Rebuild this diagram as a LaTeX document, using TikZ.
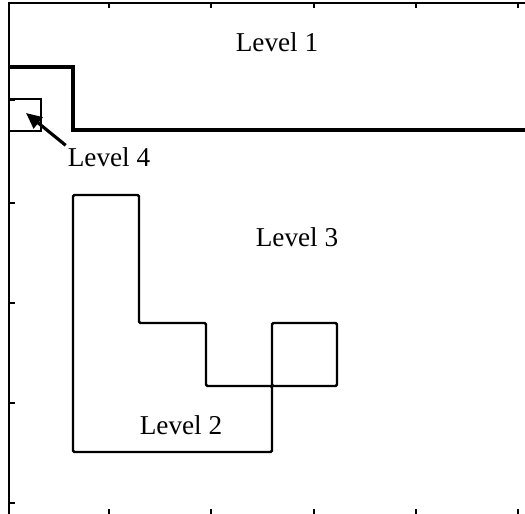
\documentclass[tikz,border=0pt]{standalone}
\usepackage{fontspec}
\setmainfont{Liberation Serif}
\usetikzlibrary{arrows.meta}

\begin{document}
\begin{tikzpicture}[
      x=0.02cm, y=-0.02cm,
      every node/.style={font=\fontsize{15.5}{18}\selectfont, inner sep=1pt},
      axis/.style={line width=0.7pt},
      tick/.style={line width=0.9pt},
      levelone/.style={line width=2.2pt},
      leveltwo/.style={line width=1.4pt, rounded corners=0.8pt},
      levelfour/.style={line width=0.8pt},
      pointer/.style={line width=1.8pt, -{Triangle[length=9pt,width=8pt]}}
    ]

    % keep the margins of the page
    \useasboundingbox (0,0) rectangle (525,514);

    % frame: only the left and top sides, with their ticks
    \draw[axis] (9,514) -- (9,3) -- (525,3);
    \foreach \tx in {109,211,314,416,518} {
      \draw[tick] (\tx,3) -- (\tx,8);
      \draw[tick] (\tx,514) -- (\tx,509);
    }
    \foreach \ty in {100,203,303,403,503}
      \draw[tick] (9,\ty) -- (15,\ty);

    % Level 1 boundary (thick step line)
    \draw[levelone] (9,67) -- (73,67) -- (73,130) -- (525,130);

    % Level 4: the small square in the corner
    \draw[levelfour] (9,99) rectangle (41,131);

    % Level 2: the L-shaped staircase
    \draw[leveltwo] (73,195) -- (139,195) -- (139,323) -- (206,323)
      -- (206,386) -- (272,386) -- (272,452) -- (73,452) -- cycle;
    % the square at the side of the stairs
    \draw[leveltwo] (272,323) rectangle (337,386);

    % labels
    \node (lone)   at (277,42)  {Level 1};
    \node (lthree) at (297,237) {Level 3};
    \node (ltwo)   at (181,425) {Level 2};
    \node (lfour)  at (109,157) {Level 4};

    % arrow from the Level 4 label into the small square
    \coordinate (sq) at (26,113);
    \draw[pointer] (lfour.north west) -- (sq);
\end{tikzpicture}
\end{document}
